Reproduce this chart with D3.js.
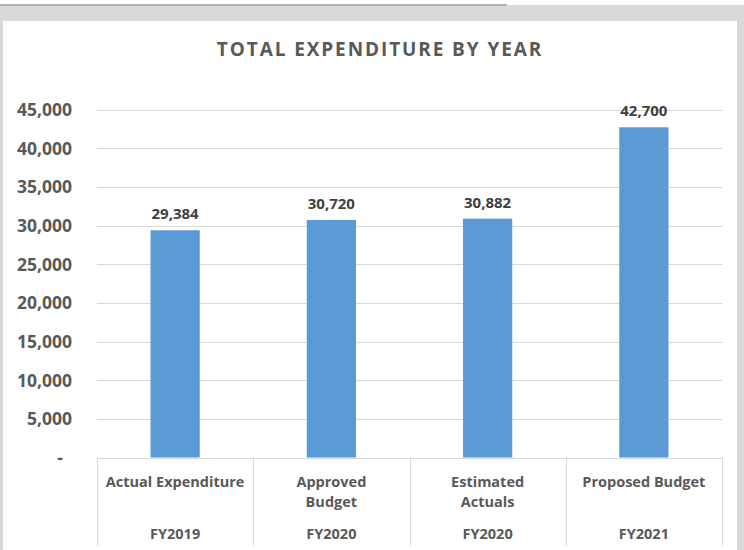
<!DOCTYPE html>
<html>
<head>
<meta charset="utf-8">
<script src="https://cdn.jsdelivr.net/npm/d3@7"></script>
<style>
  html, body { margin: 0; padding: 0; background: #ffffff; }
  svg { display: block; }
  text { font-family: "Open Sans", "Liberation Sans", sans-serif; font-weight: bold; }
</style>
</head>
<body>
<svg id="chart" width="744" height="550"></svg>
<script>
// ---- data ----
const categories = ["Actual Expenditure", "Approved Budget", "Estimated Actuals", "Proposed Budget"];
const categoryLines = [["Actual Expenditure"], ["Approved", "Budget"], ["Estimated", "Actuals"], ["Proposed Budget"]];
const fiscalYears = ["FY2019", "FY2020", "FY2020", "FY2021"];
const values = [29384, 30720, 30882, 42700];
const valueLabels = ["29,384", "30,720", "30,882", "42,700"];
const yTicks = [0, 5000, 10000, 15000, 20000, 25000, 30000, 35000, 40000, 45000];
const yTickLabels = ["-", "5,000", "10,000", "15,000", "20,000", "25,000", "30,000", "35,000", "40,000", "45,000"];
const title = "TOTAL EXPENDITURE BY YEAR";

// ---- layout ----
const W = 744, H = 550;
const plot = { left: 97, right: 722, top: 109.5, bottom: 457.5 };
const svg = d3.select("#chart");

// frame
svg.append("rect").attr("x", 0).attr("y", 0).attr("width", W).attr("height", H).attr("fill", "#ffffff");
svg.append("rect").attr("x", 0).attr("y", 5).attr("width", W).attr("height", 16).attr("fill", "#d9d9d9");
svg.append("rect").attr("x", 0).attr("y", 4).attr("width", 507).attr("height", 2).attr("fill", "#b4b4b4");
svg.append("rect").attr("x", 0).attr("y", 21).attr("width", 3).attr("height", H - 21).attr("fill", "#d9d9d9");
svg.append("rect").attr("x", 737).attr("y", 21).attr("width", W - 737).attr("height", H - 21).attr("fill", "#d9d9d9");

// title
svg.append("text")
  .attr("x", 380).attr("y", 56)
  .attr("text-anchor", "middle")
  .attr("font-size", 19)
  .attr("letter-spacing", "1.9px")
  .attr("fill", "#595959")
  .text(title);

// scales
const x = d3.scaleBand().domain(d3.range(categories.length)).range([plot.left, plot.right]).padding(0);
const y = d3.scaleLinear().domain([0, 45000]).range([plot.bottom, plot.top]);
const barW = x.bandwidth() * 0.315;

// gridlines
svg.append("g").selectAll("line")
  .data(yTicks)
  .join("line")
  .attr("x1", plot.left).attr("x2", plot.right)
  .attr("y1", d => Math.round(y(d)) + 0.5).attr("y2", d => Math.round(y(d)) + 0.5)
  .attr("stroke", "#d9d9d9").attr("stroke-width", 1);

// y axis labels
const yAxis = d3.axisLeft(y).tickValues(yTicks).tickSize(0).tickPadding(0)
  .tickFormat((d, i) => yTickLabels[i]);
const gy = svg.append("g").attr("transform", `translate(72,0)`).call(yAxis);
gy.select(".domain").remove();
gy.selectAll("text")
  .attr("font-family", "'Open Sans', sans-serif")
  .attr("font-weight", "bold")
  .attr("font-size", 17.5)
  .attr("fill", "#595959")
  .attr("dy", "0.35em")
  .attr("dx", (d) => d === 0 ? -9 : 0);

// bars
svg.append("g").selectAll("rect")
  .data(values)
  .join("rect")
  .attr("x", (d, i) => x(i) + x.bandwidth() / 2 - barW / 2)
  .attr("width", barW)
  .attr("y", d => y(d))
  .attr("height", d => y(0) - y(d))
  .attr("fill", "#5b9bd5");

// value labels
svg.append("g").selectAll("text")
  .data(values)
  .join("text")
  .attr("x", (d, i) => x(i) + x.bandwidth() / 2)
  .attr("y", d => y(d) - 11)
  .attr("text-anchor", "middle")
  .attr("font-size", 15)
  .attr("fill", "#404040")
  .text((d, i) => valueLabels[i]);

// category box lines
const bounds = d3.range(categories.length + 1).map(i => i < categories.length ? x(i) : plot.right);
svg.append("g").selectAll("line")
  .data(bounds)
  .join("line")
  .attr("x1", d => Math.round(d) + 0.5).attr("x2", d => Math.round(d) + 0.5)
  .attr("y1", plot.bottom).attr("y2", 546)
  .attr("stroke", "#d9d9d9").attr("stroke-width", 1);

// category labels
const catG = svg.append("g").selectAll("text")
  .data(categoryLines)
  .join("text")
  .attr("text-anchor", "middle")
  .attr("font-size", 14.5)
  .attr("fill", "#595959");
catG.each(function (lines, i) {
  d3.select(this).selectAll("tspan")
    .data(lines)
    .join("tspan")
    .attr("x", x(i) + x.bandwidth() / 2)
    .attr("y", (l, j) => 486.5 + j * 20.5)
    .text(l => l);
});

// fiscal year labels
svg.append("g").selectAll("text")
  .data(fiscalYears)
  .join("text")
  .attr("x", (d, i) => x(i) + x.bandwidth() / 2)
  .attr("y", 539)
  .attr("text-anchor", "middle")
  .attr("font-size", 14.5)
  .attr("fill", "#595959")
  .text(d => d);
</script>
</body>
</html>
